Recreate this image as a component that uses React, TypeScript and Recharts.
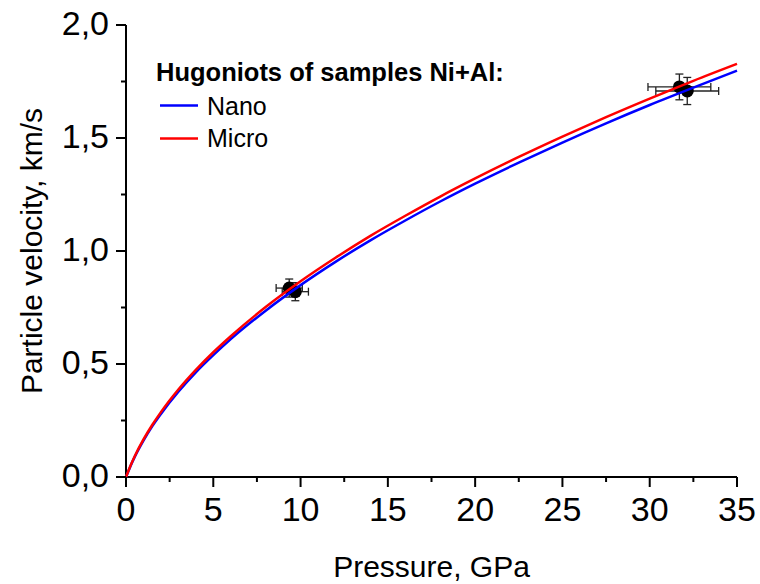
import React from 'react'
import { ComposedChart, Line, Scatter, XAxis, YAxis, ErrorBar, Legend } from 'recharts'

const FONT = '"Liberation Sans", Arial, sans-serif'

// Hugoniot curves: pressure (GPa) -> particle velocity (km/s)
const pressure = [0, 0.25, 0.5, 1, 1.5, 2, 3, 4, 5, 6, 8, 10, 12, 14, 16, 18, 20, 22.5, 25, 27.5, 30, 32.5, 35]
const nanoVelocity = [0, 0.047, 0.089, 0.161, 0.224, 0.279, 0.377, 0.463, 0.539, 0.61, 0.736, 0.849, 0.952, 1.047, 1.135, 1.219, 1.298, 1.391, 1.48, 1.565, 1.646, 1.723, 1.798]
const microVelocity = [0, 0.049, 0.092, 0.166, 0.23, 0.287, 0.387, 0.474, 0.552, 0.623, 0.752, 0.866, 0.97, 1.067, 1.156, 1.241, 1.321, 1.416, 1.506, 1.592, 1.674, 1.753, 1.828]

// experimental points with error bars
const expPressure = [9.35, 9.7, 31.7, 32.15]
const expVelocity = [0.836, 0.82, 1.726, 1.708]
const expPressureErr = [0.75, 0.75, 1.8, 1.8]
const expVelocityErr = [0.04, 0.04, 0.057, 0.06]

const xTicks = [0, 2.5, 5, 7.5, 10, 12.5, 15, 17.5, 20, 22.5, 25, 27.5, 30, 32.5, 35]
const yTicks = [0, 0.25, 0.5, 0.75, 1, 1.25, 1.5, 1.75, 2]

const legendTitle = 'Hugoniots of samples Ni+Al:'
const seriesNames = ['Nano', 'Micro']
const xTitle = 'Pressure, GPa'
const yTitle = 'Particle velocity, km/s'

const nanoData = pressure.map((p, i) => ({ p, u: nanoVelocity[i] }))
const microData = pressure.map((p, i) => ({ p, u: microVelocity[i] }))
const expData = expPressure.map((p, i) => ({ p, u: expVelocity[i], ep: expPressureErr[i], eu: expVelocityErr[i] }))

const isMajor = (v: number, step: number) => Math.abs(v / step - Math.round(v / step)) < 1e-6

const BottomTick = ({ x, y, payload }: any) => {
  const major = isMajor(payload.value, 5)
  return (
    <g>
      <line x1={x} y1={y} x2={x} y2={y + (major ? 10 : 5)} stroke="#000" strokeWidth={2} />
      {major && (
        <text x={x} y={y + 44} textAnchor="middle" fontSize={34} fontFamily={FONT} fill="#000">
          {payload.value}
        </text>
      )}
    </g>
  )
}

const TopTick = ({ x, y, payload }: any) => {
  const major = isMajor(payload.value, 5)
  return <line x1={x} y1={y} x2={x} y2={y + (major ? 10 : 5)} stroke="#000" strokeWidth={2} />
}

const LeftTick = ({ x, y, payload }: any) => {
  const major = isMajor(payload.value, 0.5)
  return (
    <g>
      <line x1={x - (major ? 10 : 5)} y1={y} x2={x} y2={y} stroke="#000" strokeWidth={2} />
      {major && (
        <text x={x - 17} y={y + 10} textAnchor="end" fontSize={34} fontFamily={FONT} fill="#000">
          {payload.value.toFixed(1).replace('.', ',')}
        </text>
      )}
    </g>
  )
}

const RightTick = ({ x, y, payload }: any) => {
  const major = isMajor(payload.value, 0.5)
  return <line x1={x - (major ? 10 : 5)} y1={y} x2={x} y2={y} stroke="#000" strokeWidth={2} />
}

const XLabel = ({ viewBox }: any) => (
  <text x={viewBox.x + viewBox.width / 2} y={viewBox.y + 100} textAnchor="middle" fontSize={30} fontFamily={FONT} fill="#000">
    {xTitle}
  </text>
)

const YLabel = ({ viewBox }: any) => {
  const cx = viewBox.x + 42
  const cy = viewBox.y + viewBox.height / 2
  return (
    <text x={cx} y={cy} transform={`rotate(-90 ${cx} ${cy})`} textAnchor="middle" fontSize={30} fontFamily={FONT} fill="#000">
      {yTitle}
    </text>
  )
}

const renderLegend = (props: any) => {
  const items = (props.payload || [])
    .filter((it: any) => seriesNames.includes(it.value))
    .sort((a: any, b: any) => seriesNames.indexOf(a.value) - seriesNames.indexOf(b.value))
  return (
    <svg width={380} height={110} style={{ overflow: 'visible' }}>
      <text x={6} y={31} fontSize={25.5} fontWeight="bold" fontFamily={FONT} fill="#000">{legendTitle}</text>
      {items.map((it: any, i: number) => (
        <g key={it.value}>
          <line x1={10} x2={48} y1={55.5 + i * 33} y2={55.5 + i * 33} stroke={it.color} strokeWidth={2.5} />
          <text x={57} y={65 + i * 31.5} fontSize={25} fontFamily={FONT} fill="#000">{it.value}</text>
        </g>
      ))}
    </svg>
  )
}

const Dot = (props: any) => <circle cx={props.cx} cy={props.cy} r={6.5} fill="#000" />

export default function App() {
  return (
    <div style={{ position: 'absolute', left: 0, top: 0 }}>
      <ComposedChart width={760} height={584} margin={{ top: 25, right: 23, bottom: 0, left: 0 }}>
        <XAxis dataKey="p" type="number" domain={[0, 35]} ticks={xTicks} interval={0} height={107}
          tickLine={false} tickSize={0} tickMargin={0} tick={BottomTick}
          axisLine={{ stroke: '#000', strokeWidth: 2 }} label={<XLabel />} />
        <XAxis xAxisId="top" orientation="top" type="number" domain={[0, 35]} ticks={xTicks} interval={0} height={0}
          tickLine={false} tickSize={0} tickMargin={0} tick={TopTick}
          axisLine={{ stroke: '#000', strokeWidth: 2 }} />
        <YAxis dataKey="u" type="number" domain={[0, 2]} ticks={yTicks} interval={0} width={126}
          tickLine={false} tickSize={0} tickMargin={0} tick={LeftTick}
          axisLine={{ stroke: '#000', strokeWidth: 2 }} label={<YLabel />} />
        <YAxis yAxisId="right" orientation="right" type="number" domain={[0, 2]} ticks={yTicks} interval={0} width={0}
          tickLine={false} tickSize={0} tickMargin={0} tick={RightTick}
          axisLine={{ stroke: '#000', strokeWidth: 2 }} />
        <Legend layout="vertical" align="center" verticalAlign="middle" content={renderLegend}
          wrapperStyle={{ left: 150, top: 50, width: 380, height: 110 }} />
        <Scatter data={expData} dataKey="u" shape={Dot} legendType="none" isAnimationActive={false}>
          <ErrorBar dataKey="ep" direction="x" width={4} stroke="#222" strokeWidth={1.3} />
          <ErrorBar dataKey="eu" direction="y" width={4} stroke="#222" strokeWidth={1.3} />
        </Scatter>
        <Line data={nanoData} dataKey="u" name="Nano" type="monotone" stroke="#0000ff" strokeWidth={2.5}
          dot={false} isAnimationActive={false} {...({ zIndex: 700 } as any)} />
        <Line data={microData} dataKey="u" name="Micro" type="monotone" stroke="#ff0000" strokeWidth={2.5}
          dot={false} isAnimationActive={false} {...({ zIndex: 710 } as any)} />
      </ComposedChart>
    </div>
  )
}
